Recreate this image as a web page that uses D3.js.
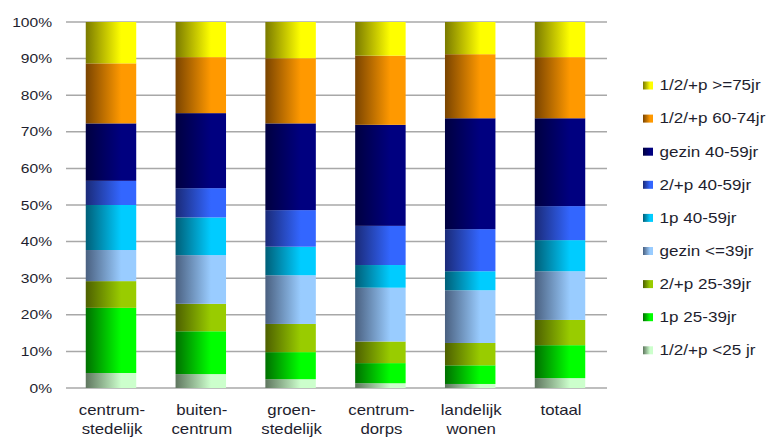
<!DOCTYPE html>
<html>
<head>
<meta charset="utf-8">
<script src="https://cdn.jsdelivr.net/npm/d3@7"></script>
<style>
  html, body { margin: 0; padding: 0; background: #fff; }
  svg { display: block; }
  text { font-family: "Liberation Sans", Arial, sans-serif; fill: #1e1e2e; }
</style>
</head>
<body>
<svg id="chart" width="771" height="437"></svg>
<script>
// Household composition share per residential environment (percent)
const categories = [
  ["centrum-", "stedelijk"],
  ["buiten-", "centrum"],
  ["groen-", "stedelijk"],
  ["centrum-", "dorps"],
  ["landelijk", "wonen"],
  ["totaal"]
];

// Series, bottom of the stack first
const seriesNames = [
  "1/2/+p <25 jr",
  "1p 25-39jr",
  "2/+p 25-39jr",
  "gezin <=39jr",
  "1p 40-59jr",
  "2/+p 40-59jr",
  "gezin 40-59jr",
  "1/2/+p 60-74jr",
  "1/2/+p >=75jr"
];

const young25      = [4.1, 3.8, 2.4, 1.3, 1.1, 2.7];
const single25_39  = [17.8, 11.7, 7.4, 5.5, 5.1, 9.0];
const couple25_39  = [7.3, 7.5, 7.7, 5.9, 6.1, 6.9];
const family39     = [8.5, 13.3, 13.3, 14.7, 14.4, 13.3];
const single40_59  = [12.3, 10.3, 7.8, 6.2, 5.2, 8.5];
const couple40_59  = [6.6, 8.0, 10.0, 10.7, 11.5, 9.3];
const family40_59  = [15.7, 20.5, 23.7, 27.6, 30.3, 24.0];
const senior60_74  = [16.4, 15.3, 17.8, 18.9, 17.5, 16.7];
const senior75     = [11.3, 9.6, 9.9, 9.2, 8.8, 9.6];

const seriesValues = [young25, single25_39, couple25_39, family39, single40_59,
                      couple40_59, family40_59, senior60_74, senior75];

const yTicks = [0, 10, 20, 30, 40, 50, 60, 70, 80, 90, 100];

// Gradient colours: dark left edge -> bright fill
const seriesColors = [
  ["#5f765f", "#ccffcc"],
  ["#007000", "#00ff00"],
  ["#4d6000", "#99cc00"],
  ["#4a6080", "#99ccff"],
  ["#005f78", "#00ccff"],
  ["#1a2a78", "#3366ff"],
  ["#000040", "#000080"],
  ["#7a4400", "#ff9900"],
  ["#7a7a00", "#ffff00"]
];

const svg = d3.select("#chart");
const margin = { left: 66, right: 166, top: 22, bottom: 49 };
const W = 771, H = 437;

const x = d3.scaleBand()
  .domain(d3.range(categories.length))
  .range([margin.left, W - margin.right])
  .paddingInner(0.438)
  .paddingOuter(0.22);

const y = d3.scaleLinear().domain([0, 100]).range([H - margin.bottom, margin.top]);

const defs = svg.append("defs");
seriesColors.forEach((c, i) => {
  const g = defs.append("linearGradient")
    .attr("id", "grad" + i)
    .attr("x1", 0).attr("x2", 1).attr("y1", 0).attr("y2", 0);
  g.append("stop").attr("offset", "0%").attr("stop-color", c[0]);
  g.append("stop").attr("offset", "70%").attr("stop-color", c[1]);
  g.append("stop").attr("offset", "100%").attr("stop-color", c[1]);
});

// Gridlines
svg.append("g")
  .selectAll("line")
  .data(yTicks)
  .join("line")
  .attr("x1", margin.left)
  .attr("x2", W - margin.right + 2)
  .attr("y1", d => y(d))
  .attr("y2", d => y(d))
  .attr("stroke", "#a8a8a8")
  .attr("stroke-width", 1.5);

// Y tick labels
const textStretch = 1.2;
svg.append("g")
  .selectAll("text")
  .data(yTicks)
  .join("text")
  .attr("transform", d => `translate(52,${y(d) + 4.5}) scale(${textStretch},1)`)
  .attr("text-anchor", "end")
  .style("font-size", "13px")
  .text(d => d + "%");

// Stacked bars
const table = categories.map((c, i) => {
  const row = { idx: i };
  seriesNames.forEach((s, j) => { row[s] = seriesValues[j][i]; });
  return row;
});
const stacked = d3.stack().keys(seriesNames)(table);

svg.append("g")
  .selectAll("g")
  .data(stacked)
  .join("g")
  .attr("fill", (d, i) => `url(#grad${i})`)
  .selectAll("rect")
  .data(d => d)
  .join("rect")
  .attr("x", d => x(d.data.idx))
  .attr("width", x.bandwidth())
  .attr("y", d => y(d[1]))
  .attr("height", d => y(d[0]) - y(d[1]));

// Category labels
const catG = svg.append("g")
  .selectAll("g")
  .data(categories)
  .join("g");
catG.selectAll("text")
  .data((d, i) => d.map((line, k) => ({ line, k, i })))
  .join("text")
  .attr("transform", d => `translate(${x(d.i) + x.bandwidth() / 2 + 1},${414.5 + d.k * 19.5}) scale(${textStretch},1)`)
  .attr("text-anchor", "middle")
  .style("font-size", "14px")
  .text(d => d.line);

// Legend, top entry = top of stack
const legendOrder = d3.range(seriesNames.length).reverse();
const leg = svg.append("g")
  .selectAll("g")
  .data(legendOrder)
  .join("g")
  .attr("transform", (d, k) => `translate(643,${85.5 + k * 33.1})`);
leg.append("rect")
  .attr("x", 0).attr("y", -4)
  .attr("width", 10).attr("height", 8)
  .attr("fill", d => `url(#grad${d})`);
leg.append("text")
  .attr("transform", `translate(16.5,4.8) scale(1.22,1)`)
  .style("font-size", "14px")
  .text(d => seriesNames[d]);
</script>
</body>
</html>
